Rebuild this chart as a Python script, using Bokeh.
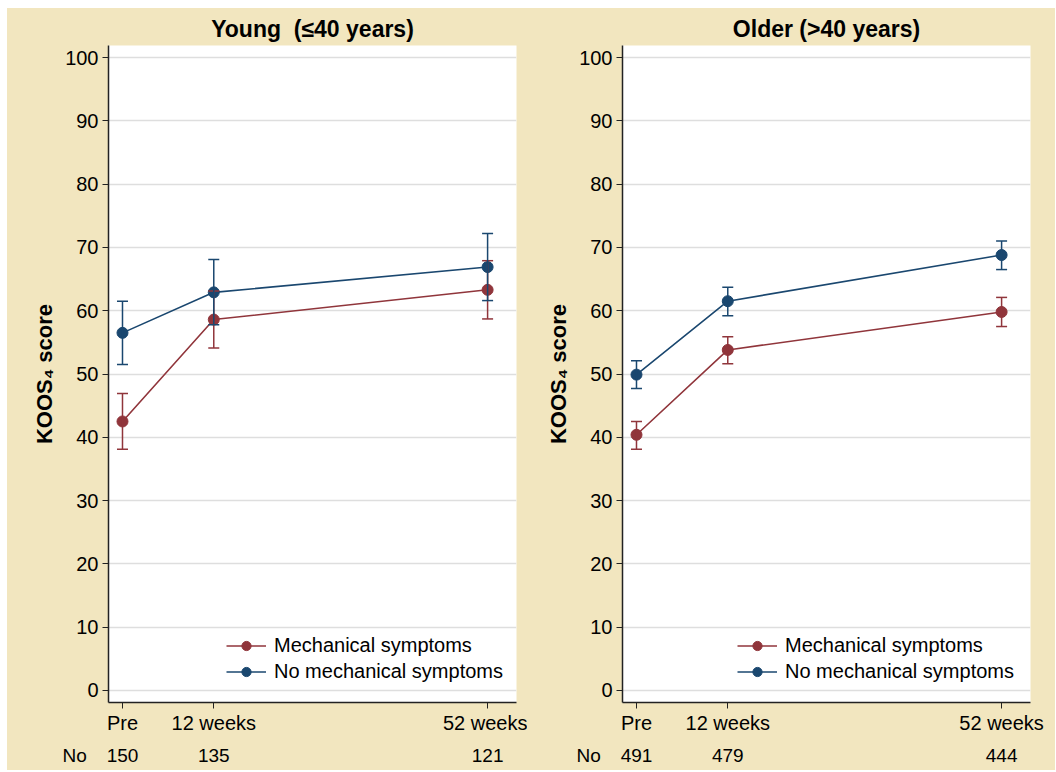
from bokeh.plotting import figure
from bokeh.models import (ColumnDataSource, Whisker, TeeHead, FixedTicker,
                          Legend, LegendItem, Label, Range1d)
from bokeh.core.properties import value
from bokeh.layouts import row, column
from bokeh.embed import file_html
from bokeh.resources import INLINE

# ---------------- data ----------------
time_points = [0, 3, 12]          # months after baseline
time_labels = ["Pre", "12 weeks", "52 weeks"]
series_names = ["Mechanical symptoms", "No mechanical symptoms"]
count_row_label = "No"

young_mech_mean = [42.5, 58.6, 63.3]
young_mech_lower = [38.1, 54.1, 58.7]
young_mech_upper = [46.9, 63.1, 67.9]
young_nomech_mean = [56.5, 62.9, 66.9]
young_nomech_lower = [51.5, 57.8, 61.6]
young_nomech_upper = [61.5, 68.1, 72.2]
young_n = [150, 135, 121]

older_mech_mean = [40.4, 53.8, 59.8]
older_mech_lower = [38.1, 51.6, 57.5]
older_mech_upper = [42.5, 55.9, 62.1]
older_nomech_mean = [49.9, 61.5, 68.8]
older_nomech_lower = [47.7, 59.2, 66.5]
older_nomech_upper = [52.1, 63.7, 71.0]
older_n = [491, 479, 444]

y_ticks = list(range(0, 101, 10))

# ---------------- style / layout ----------------
FONT = "Liberation Sans"
BEIGE = "#F2E6BF"
RED = "#90353B"
BLUE = "#1A476F"
GRID = "#DEDEDE"
AXIS = "#222222"
TICK_FS = "20px"

X_START, X_END = -0.46, 12.95
Y_START, Y_END = -1.9, 101.9
FRAME_W = 408
MAIN_H = 732
COUNT_H = 30
TOP_B = 37
BOTTOM_B = 38

PANELS = [  # (panel width, left border, legend x offset)
    (520, 101, 118),
    (528, 95, 115),
]
STRIP_W = sum(pw for pw, _, _ in PANELS)


def make_panel(title, mech, nomech, total_w, left_b, legend_x):
    right_b = total_w - left_b - FRAME_W
    p = figure(width=total_w, height=MAIN_H, output_backend="svg", toolbar_location=None,
               x_range=Range1d(X_START, X_END), y_range=Range1d(Y_START, Y_END),
               min_border_left=left_b, min_border_right=right_b,
               min_border_top=TOP_B, min_border_bottom=BOTTOM_B)
    p.border_fill_color = BEIGE
    p.background_fill_color = "white"
    p.outline_line_color = None

    p.title.text = title
    p.title.align = "center"
    p.title.text_font = FONT
    p.title.text_font_size = "23px"
    p.title.text_font_style = "bold"
    p.title.text_color = "black"
    p.title.standoff = 8

    p.xgrid.visible = False
    p.ygrid.ticker = FixedTicker(ticks=y_ticks)
    p.ygrid.grid_line_color = GRID
    p.ygrid.grid_line_width = 1.3

    ya = p.yaxis[0]
    ya.ticker = FixedTicker(ticks=y_ticks)
    ya.axis_label = "KOOS\u2084 score"
    ya.axis_label_text_font = FONT
    ya.axis_label_text_font_size = "22px"
    ya.axis_label_text_font_style = "bold"
    ya.axis_label_text_color = "black"
    ya.axis_label_standoff = 5
    ya.major_label_text_font = FONT
    ya.major_label_text_font_size = TICK_FS
    ya.major_label_text_color = "black"
    ya.major_label_standoff = 4
    ya.major_tick_out = 6
    ya.major_tick_in = 0
    ya.minor_tick_line_color = None
    ya.axis_line_color = AXIS
    ya.axis_line_width = 1.5
    ya.major_tick_line_color = AXIS

    xa = p.xaxis[0]
    xa.ticker = FixedTicker(ticks=time_points)
    xa.major_label_overrides = {t: l for t, l in zip(time_points, time_labels)}
    xa.major_label_text_font = FONT
    xa.major_label_text_font_size = TICK_FS
    xa.major_label_text_color = "black"
    xa.major_label_standoff = 3
    xa.major_tick_out = 6
    xa.major_tick_in = 0
    xa.minor_tick_line_color = None
    xa.axis_line_color = AXIS
    xa.axis_line_width = 1.5
    xa.major_tick_line_color = AXIS

    items = []
    for (mean, lower, upper), color, name in zip([mech, nomech], [RED, BLUE], series_names):
        src = ColumnDataSource(dict(x=time_points, y=mean, lower=lower, upper=upper))
        w = Whisker(source=src, base="x", lower="lower", upper="upper",
                    line_color=color, line_width=1.5, level="glyph",
                    upper_head=TeeHead(size=11, line_color=color, line_width=1.5),
                    lower_head=TeeHead(size=11, line_color=color, line_width=1.5))
        p.add_layout(w)
        lr = p.line("x", "y", source=src, line_color=color, line_width=1.6)
        sr = p.scatter("x", "y", source=src, size=11, fill_color=color, line_color=color,
                       marker="circle")
        items.append(LegendItem(label=name, renderers=[lr, sr]))

    leg = Legend(items=items, location=(legend_x, 19))
    leg.label_text_font = FONT
    leg.label_text_font_size = "20px"
    leg.label_text_color = "black"
    leg.glyph_width = 40
    leg.glyph_height = 23
    leg.label_height = 23
    leg.label_standoff = 8
    leg.spacing = 3
    leg.padding = 5
    leg.margin = 0
    leg.border_line_color = None
    leg.background_fill_color = "white"
    leg.background_fill_alpha = 1.0
    p.add_layout(leg)
    return p


p1 = make_panel("Young \u00a0(\u226440 years)",
                (young_mech_mean, young_mech_lower, young_mech_upper),
                (young_nomech_mean, young_nomech_lower, young_nomech_upper),
                *PANELS[0])
p2 = make_panel("Older (>40 years)",
                (older_mech_mean, older_mech_lower, older_mech_upper),
                (older_nomech_mean, older_nomech_lower, older_nomech_upper),
                *PANELS[1])

# ---------- row of patient numbers, on each panel's own x scale ----------
k = FRAME_W / (X_END - X_START)          # pixels per x unit in the panels
extra = {}
offset = 0
strip_info = []
for name, (pw, lb, _) in zip(["young", "older"], PANELS):
    left_px = offset + lb
    right_px = STRIP_W - left_px - FRAME_W
    extra[name] = Range1d(X_START - left_px / k, X_END + right_px / k)
    strip_info.append((name, left_px))
    offset += pw

strip = figure(width=STRIP_W, height=COUNT_H, output_backend="svg", toolbar_location=None,
               x_range=Range1d(0, STRIP_W), y_range=Range1d(0, 1),
               x_axis_type=None, y_axis_type=None,
               min_border=0, min_border_left=0, min_border_right=0,
               min_border_top=0, min_border_bottom=0)
strip.extra_x_ranges = extra
strip.border_fill_color = BEIGE
strip.background_fill_color = BEIGE
strip.outline_line_color = None
strip.grid.visible = False

for (name, left_px), counts in zip(strip_info, [young_n, older_n]):
    csrc = ColumnDataSource(dict(x=time_points, y=[0.5] * len(time_points),
                                 t=[str(n) for n in counts]))
    strip.text("x", "y", text="t", source=csrc, x_range_name=name,
               text_font=value(FONT), text_font_size="19px", text_color="black",
               text_align="center", text_baseline="middle")
    strip.add_layout(Label(x=left_px - 46, y=0.5, x_units="screen", y_units="data",
                           text=count_row_label, text_font=FONT, text_font_size="19px",
                           text_color="black", text_align="left", text_baseline="middle"))

layout = column(row(p1, p2), strip, margin=(8, 0, 0, 7),
                styles={"background-color": BEIGE})
open("out.html", "w").write(file_html(layout, INLINE))
